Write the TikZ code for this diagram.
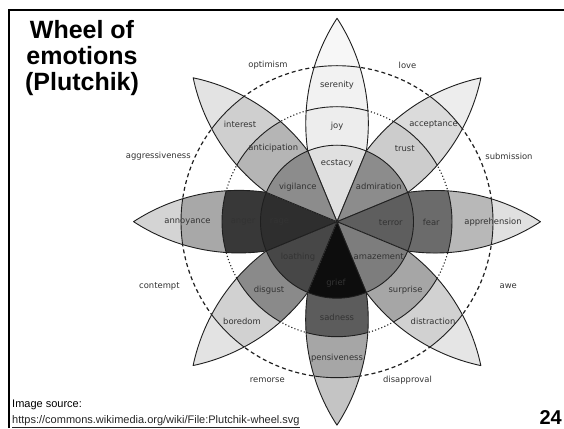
\documentclass[tikz,border=0pt]{standalone}
\usepackage{fontspec}
\setmainfont{Liberation Sans}
\newfontfamily\wheelfont{DejaVu Sans}

% grey levels of the eight petals: A = inner sector, B = middle band,
% C = outer band, D = tip
\definecolor{joyA}{gray}{0.88}\definecolor{joyB}{gray}{0.93}\definecolor{joyC}{gray}{0.95}\definecolor{joyD}{gray}{0.97}
\definecolor{truA}{gray}{0.55}\definecolor{truB}{gray}{0.80}\definecolor{truC}{gray}{0.86}\definecolor{truD}{gray}{0.93}
\definecolor{feaA}{gray}{0.37}\definecolor{feaB}{gray}{0.42}\definecolor{feaC}{gray}{0.72}\definecolor{feaD}{gray}{0.88}
\definecolor{surA}{gray}{0.49}\definecolor{surB}{gray}{0.65}\definecolor{surC}{gray}{0.82}\definecolor{surD}{gray}{0.90}
\definecolor{sadA}{gray}{0.05}\definecolor{sadB}{gray}{0.36}\definecolor{sadC}{gray}{0.65}\definecolor{sadD}{gray}{0.77}
\definecolor{disA}{gray}{0.28}\definecolor{disB}{gray}{0.54}\definecolor{disC}{gray}{0.82}\definecolor{disD}{gray}{0.89}
\definecolor{angA}{gray}{0.18}\definecolor{angB}{gray}{0.22}\definecolor{angC}{gray}{0.66}\definecolor{angD}{gray}{0.83}
\definecolor{antA}{gray}{0.55}\definecolor{antB}{gray}{0.71}\definecolor{antC}{gray}{0.81}\definecolor{antD}{gray}{0.89}
\definecolor{edge}{gray}{0.12}
\definecolor{labeltext}{gray}{0.2}

% radii of the inner circle, the dotted circle and the dashed circle
\def\Ra{76.5}
\def\Rb{115}
\def\Rc{156}
% one petal along the positive x axis, including its inner sector
\def\petalpath{(0,0) -- (22.5:\Ra)
  arc[start angle=98.2, end angle=56.9, radius=192.8]
  arc[start angle=-56.9, end angle=-98.2, radius=192.8] -- cycle}

\begin{document}
\begin{tikzpicture}[x=1pt, y=1pt,
  band/.style={line width=0.9pt, draw=edge, line join=round},
  emo/.style={font=\wheelfont\fontsize{8.4}{9}\selectfont, text=labeltext, inner sep=0pt},
  titletext/.style={font=\fontsize{25}{26}\selectfont\bfseries, inner sep=0pt, anchor=base},
  frameline/.style={line width=2pt, draw=black}]

\path[use as bounding box, fill=white] (0,0) rectangle (564,428);

% slide frame
\draw[frameline] (9,0) -- (9,418) -- (564,418);

\coordinate (C) at (337,206.3);

% dyad circles
\draw[edge, line width=1.2pt, dash pattern=on 4pt off 3pt] (C) circle[radius=\Rc];
\draw[edge, line width=1.1pt, dash pattern=on 1.1pt off 2.2pt] (C) circle[radius=\Rb];

% petals
\foreach \ang/\pa/\pb/\pc/\pd in {
    90/joyA/joyB/joyC/joyD, 45/truA/truB/truC/truD,
    0/feaA/feaB/feaC/feaD, -45/surA/surB/surC/surD,
    -90/sadA/sadB/sadC/sadD, -135/disA/disB/disC/disD,
    180/angA/angB/angC/angD, 135/antA/antB/antC/antD}{
  \begin{scope}[shift={(C)}, rotate=\ang]
    \fill[\pd] \petalpath;
    \begin{scope}
      \clip \petalpath;
      \fill[\pc] (0,0) circle[radius=\Rc];
      \fill[\pb] (0,0) circle[radius=\Rb];
      \fill[\pa] (0,0) circle[radius=\Ra];
      \draw[band] (0,0) circle[radius=\Rb] (0,0) circle[radius=\Rc];
    \end{scope}
    \draw[band] \petalpath;
  \end{scope}
}
\draw[band] (C) circle[radius=\Ra];

% emotion names
\begin{scope}[shift={(C)}]
  \node[emo] (serenity) at (0,136.7) {serenity};
  \node[emo] (joy) at (0,95.7) {joy};
  \node[emo] (ecstacy) at (0,58.4) {ecstacy};
  \node[emo] (acceptance) at (96.5,97.4) {acceptance};
  \node[emo] (trust) at (67.7,73.4) {trust};
  \node[emo] (admiration) at (41.8,35) {admiration};
  \node[emo] (apprehension) at (156,0) {apprehension};
  \node[emo] (fear) at (94.3,-1) {fear};
  \node[emo] (terror) at (53.8,-1) {terror};
  \node[emo] (distraction) at (96,-99.3) {distraction};
  \node[emo] (surprise) at (68.5,-68.3) {surprise};
  \node[emo] (amazement) at (41.7,-35) {amazement};
  \node[emo] (grief) at (-1,-61) {grief};
  \node[emo] (sadness) at (0,-95.6) {sadness};
  \node[emo] (pensiveness) at (0,-136.5) {pensiveness};
  \node[emo] (boredom) at (-95,-99.3) {boredom};
  \node[emo] (disgust) at (-68,-68.3) {disgust};
  \node[emo] (loathing) at (-39,-35) {loathing};
  \node[emo] (annoyance) at (-149.5,0) {annoyance};
  \node[emo] (anger) at (-94,0) {anger};
  \node[emo] (rage) at (-57.5,0) {rage};
  \node[emo] (interest) at (-97,97.4) {interest};
  \node[emo] (anticipation) at (-63.7,73.4) {anticipation};
  \node[emo] (vigilance) at (-39.2,35) {vigilance};
\end{scope}

% dyads
\node[emo] (optimism) at (268,363) {optimism};
\node[emo] (love) at (407.5,363) {love};
\node[emo] (aggressiveness) at (158.3,272) {aggressiveness};
\node[emo] (submission) at (509,272) {submission};
\node[emo] (contempt) at (159.4,141.3) {contempt};
\node[emo] (awe) at (508.3,141.3) {awe};
\node[emo] (remorse) at (267.3,48) {remorse};
\node[emo] (disapproval) at (407.5,48) {disapproval};

% title
\node[titletext] (title1) at (82,389.5) {Wheel of};
\node[titletext] (title2) at (82,363.5) {emotions};
\node[titletext] (title3) at (82,337.5) {(Plutchik)};

% source and page number
\node[font=\fontsize{11}{13}\selectfont, inner sep=0pt, anchor=base west] (source) at (12,21) {Image source:};
\node[font=\fontsize{11}{13}\selectfont, inner sep=0pt, anchor=base west, text=black!85] (url) at (12,4.5)
  {\underline{https://commons.wikimedia.org/wiki/File:Plutchik-wheel.svg}};
\node[font=\fontsize{20}{22}\selectfont\bfseries, inner sep=0pt, anchor=base east] (page) at (562,4) {24};
\end{tikzpicture}
\end{document}
